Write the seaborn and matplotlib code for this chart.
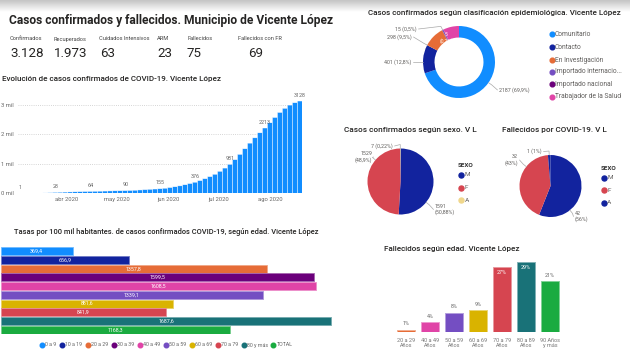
import numpy as np
import pandas as pd
import matplotlib
matplotlib.use("Agg")
import matplotlib.pyplot as plt
import matplotlib.dates as mdates
import matplotlib.colors as mcolors
from matplotlib.lines import Line2D
import seaborn as sns

# ---------------- data ----------------
kpi_labels = ["Confirmados", "Recuperados", "Cuidados Intensivos", "ARM", "Fallecidos", "Fallecidos con FR"]
kpi_values = ["3.128", "1.973", "63", "23", "75", "69"]

evo_start = "2020-03-04"
evo_step_days = 3
evo_values = [1, 2, 3, 5, 8, 12, 19, 28, 34, 40, 45, 50, 55, 60, 64, 68, 72, 76, 80, 84,
              87, 90, 96, 104, 113, 124, 135, 145, 155, 172, 195, 222, 252, 290, 330, 376,
              430, 495, 565, 645, 745, 855, 981, 1140, 1320, 1510, 1700, 1880, 2050, 2213,
              2390, 2570, 2740, 2880, 2990, 3070, 3128]
evo_label_every = 7
month_ticks = ["2020-04-01", "2020-05-01", "2020-06-01", "2020-07-01", "2020-08-01"]
month_labels = ["abr 2020", "may 2020", "jun 2020", "jul 2020", "ago 2020"]
evo_yticks = [0, 1000, 2000, 3000]

age_groups = ["0 a 9", "10 a 19", "20 a 29", "30 a 39", "40 a 49", "50 a 59",
              "60 a 69", "70 a 79", "80 y más", "TOTAL"]
age_rates = [369.4, 656.9, 1357.8, 1599.5, 1608.5, 1339.1, 881.6, 841.9, 1687.6, 1168.3]
age_colors = ["#118DFF", "#12239E", "#E66C37", "#6B007B", "#E044A7", "#744EC2",
              "#D9B300", "#D64550", "#197278", "#1AAB40"]

epi_cats = ["Comunitario", "Contacto", "En Investigación", "Importado internacional",
            "Importado nacional", "Trabajador de la Salud"]
epi_legend = ["Comunitario", "Contacto", "En Investigación", "Importado internacio...",
              "Importado nacional", "Trabajador de la Salud"]
epi_values = [2187, 401, 298, 15, 5, 222]
epi_colors = ["#118DFF", "#12239E", "#E66C37", "#744EC2", "#6B007B", "#E044A7"]

sex_cats = ["M", "F", "A"]
sex_cases = [1591, 1529, 7]
sex_case_colors = ["#12239E", "#D64550", "#F0D78C"]
sex_deaths = [42, 32, 1]
sex_death_colors = ["#12239E", "#D64550", "#12239E"]

death_age_groups = ["20 a 29\nAños", "40 a 49\nAños", "50 a 59\nAños", "60 a 69\nAños",
                    "70 a 79\nAños", "80 a 89\nAños", "90 Años\ny más"]
death_age_pct = [1, 4, 8, 9, 27, 29, 21]
death_age_colors = ["#E66C37", "#E044A7", "#744EC2", "#D9B300", "#D64550", "#197278", "#1AAB40"]

# ---------------- setup ----------------
W, H = 630, 356
sns.set_theme(style="white")
plt.rcParams["font.family"] = ["Roboto", "DejaVu Sans"]
TITLE_C = "#252423"
GREY = "#605E5C"

fig = plt.figure(figsize=(W / 100, H / 100), dpi=100)
fig.patch.set_facecolor("white")


def px_axes(x0, y0, x1, y1, **kw):
    return fig.add_axes([x0 / W, 1 - y1 / H, (x1 - x0) / W, (y1 - y0) / H], **kw)


def lighten(c, f=0.35):
    r, g, b = mcolors.to_rgb(c)
    return (r + (1 - r) * f, g + (1 - g) * f, b + (1 - b) * f)


ov = px_axes(0, 0, W, H, zorder=10)
ov.patch.set_alpha(0)
ov.axis("off")
grad = np.linspace(0, 1, 50).reshape(-1, 1)
cm = mcolors.LinearSegmentedColormap.from_list("g", ["#c4c4c4", "#ffffff"])
ov.imshow(grad, extent=(0, W, 12, 0), aspect="auto", cmap=cm, zorder=0)
ov.set_xlim(0, W)
ov.set_ylim(H, 0)


def T(x, y, s, size, ha="left", va="center", color=GREY, weight="normal", **kw):
    return ov.text(x, y, s, fontsize=size, ha=ha, va=va, color=color, weight=weight, **kw)


fit_list = []


def title(x, y, s, width, weight="medium", ha="left"):
    t = T(x, y, s, 7, ha=ha, color=TITLE_C, weight=weight)
    fit_list.append((t, width))
    return t


# ---------------- header ----------------
title(9, 20.5, "Casos confirmados y fallecidos. Municipio de Vicente López", 327, weight="bold")
kpi_lab_x = [10, 54, 99, 157, 188, 238]
kpi_val_x = [10, 54, 100, 157, 187, 248]
for lab, val, lx, vx in zip(kpi_labels, kpi_values, kpi_lab_x, kpi_val_x):
    T(lx, 39, lab, 4.1, color="#444444")
    T(vx, 53.5, val, 9.6, color="#252423")

# ---------------- evolution chart ----------------
title(2, 79, "Evolución de casos confirmados de COVID-19. Vicente López", 221)
evo_dates = pd.date_range(evo_start, periods=len(evo_values), freq=f"{evo_step_days}D")
evo_df = pd.DataFrame({"x": mdates.date2num(evo_dates), "casos": evo_values})
ax1 = px_axes(17.9, 95, 302.4, 193.3)
sns.barplot(data=evo_df, x="x", y="casos", native_scale=True, color="#118DFF",
            width=1, edgecolor="white", linewidth=0.3, errorbar=None, saturation=1, ax=ax1)
# make each column fill its whole time step (bars touching, thin white separators)
for p in ax1.patches:
    cx = p.get_x() + p.get_width() / 2
    p.set_width(evo_step_days)
    p.set_x(cx - evo_step_days / 2)
    p.set_snap(False)
half = evo_step_days / 2
ax1.set_xlim(evo_df["x"].iloc[0] - half, evo_df["x"].iloc[-1] + half)
ax1.set_ylim(0, 3332)
ax1.set_xticks(mdates.date2num(pd.to_datetime(month_ticks)))
ax1.set_xticklabels(month_labels)
ax1.set_yticks(evo_yticks)
ax1.set_yticklabels([f"{v // 1000} mil" for v in evo_yticks])
ax1.set_axisbelow(True)
ax1.yaxis.grid(True, linestyle=(0, (1, 1.6)), color="#c8c8c8", lw=0.6)
ax1.xaxis.grid(False)
ax1.tick_params(axis="both", length=0, labelsize=4.2, colors="#666666")
ax1.tick_params(axis="x", pad=3)
ax1.tick_params(axis="y", pad=3)
ax1.set_xlabel("")
ax1.set_ylabel("")
sns.despine(ax=ax1, left=True, bottom=True)
ax1.patch.set_alpha(0)
for i in range(0, len(evo_values), evo_label_every):
    ax1.annotate(str(evo_values[i]), (evo_df["x"].iloc[i], evo_values[i]), xytext=(0, 2.5),
                 textcoords="offset points", ha="center", va="bottom", fontsize=3.9, color="#666666")

# ---------------- rates by age ----------------
title(166.5, 231.5, "Tasas por 100 mil habitantes. de casos confirmados COVID-19, según edad. Vicente López",
      307, ha="center")
rate_df = pd.DataFrame({"grupo": age_groups, "tasa": age_rates})
ax2 = px_axes(0.5, 247, 344.5, 334)
sns.barplot(data=rate_df, y="grupo", x="tasa", hue="grupo", palette=dict(zip(age_groups, age_colors)),
            orient="h", width=0.93, saturation=1, legend=False, ax=ax2)
ax2.set_xlim(0, max(age_rates) * 344 / 331)
for p in ax2.patches:
    p.set_edgecolor(lighten(p.get_facecolor(), 0.4))
    p.set_linewidth(0.6)
for cont, v in zip(ax2.containers, age_rates):
    ax2.bar_label(cont, labels=[f"{v:.1f}".replace(".", ",")], label_type="center",
                  color="white", fontsize=3.8)
ax2.axis("off")
handles = [Line2D([], [], marker="o", ls="", color=c, markersize=3.3) for c in age_colors]
ov.legend(handles, age_groups, loc="center", bbox_to_anchor=(166 / W, 1 - 345 / H),
          bbox_transform=fig.transFigure, ncol=10, fontsize=3.8, frameon=False,
          handletextpad=0.05, columnspacing=0.6, borderpad=0, handlelength=1.0,
          labelcolor="#666666")


# ---------------- pies ----------------
def leader(wedge, cx, cy, r, tx, ty, text, ha, size=3.8):
    t1, t2 = wedge.theta1, wedge.theta2
    a = np.degrees(np.arctan2(cy - ty, tx - cx))
    a = t1 + (a - t1) % 360
    if a > t2:
        m = min(4, (t2 - t1) / 2)
        a = t1 + m if (360 - (a - t1)) < (a - t2) else t2 - m
    ar = np.radians(a)
    ex, ey = cx + r * np.cos(ar), cy - r * np.sin(ar)
    ox, oy = cx + (r + 4) * np.cos(ar), cy - (r + 4) * np.sin(ar)
    anc = tx + 1.5 if ha == "right" else tx - 1.5
    ov.plot([ex, ox, anc], [ey, oy, ty], color="#A8A8A8", lw=0.5)
    T(tx, ty, text, size, ha=ha, multialignment=ha, linespacing=1.15)


def pie(cx, cy, r, vals, cols, width=None):
    ax = px_axes(cx - r, cy - r, cx + r, cy + r)
    wp = dict(linewidth=0)
    if width:
        wp["width"] = width
    wedges, _ = ax.pie(vals, colors=cols, startangle=90, counterclock=False, radius=1, wedgeprops=wp)
    ax.set_xlim(-1, 1)
    ax.set_ylim(-1, 1)
    return wedges


# donut
title(368.5, 12.8, "Casos confirmados según clasificación epidemiológica. Vicente López", 255)
dcx, dcy, dr = 459, 62, 36
w = pie(dcx, dcy, dr, epi_values, epi_colors, width=0.32)
tot = sum(epi_values)


def pct1(v, t):
    return f"{100 * v / t:.1f}".replace(".", ",") + "%"


leader(w[0], dcx, dcy, dr, 499, 90, f"{epi_values[0]} ({pct1(epi_values[0], tot)})", "left")
leader(w[1], dcx, dcy, dr, 411, 62, f"{epi_values[1]} ({pct1(epi_values[1], tot)})", "right")
leader(w[2], dcx, dcy, dr, 412, 37, f"{epi_values[2]} ({pct1(epi_values[2], tot)})", "right")
leader(w[3], dcx, dcy, dr, 417, 29, f"{epi_values[3]} ({pct1(epi_values[3], tot)})", "right")
T(446, 38, f"{epi_values[4]}\n({pct1(epi_values[4], tot)})", 3.6, ha="center", color="white",
  multialignment="center", linespacing=1.1)
leg_y = [34.3, 47.3, 60, 71.7, 84.3, 96.7]
for lab, c, y in zip(epi_legend, epi_colors, leg_y):
    ov.plot([552], [y], marker="o", ms=3.4, color=c, ls="")
    T(555, y, lab, 4.8)


def pct_trim(v, t, dec):
    s = f"{100 * v / t:.{dec}f}"
    if "." in s:
        s = s.rstrip("0").rstrip(".")
    return s.replace(".", ",") + "%"


# sex pie
title(343.5, 130, "Casos confirmados según sexo. V L", 133)
scx, scy, sr = 400.5, 181.5, 33
ws = pie(scx, scy, sr, sex_cases, sex_case_colors)
st = sum(sex_cases)
leader(ws[2], scx, scy, sr, 393, 146, f"{sex_cases[2]} ({pct_trim(sex_cases[2], st, 2)})", "right")
leader(ws[1], scx, scy, sr, 372, 157, f"{sex_cases[1]}\n({pct_trim(sex_cases[1], st, 2)})", "right")
leader(ws[0], scx, scy, sr, 435, 209.5, f"{sex_cases[0]}\n({pct_trim(sex_cases[0], st, 2)})", "left")
T(458, 165.5, "SEXO", 4.6, color="#333333", weight="bold")
for lab, c, y in zip(sex_cats, sex_case_colors, [175, 187.5, 200]):
    ov.plot([461], [y], marker="o", ms=3.6, color=c, ls="")
    T(464.5, y, lab, 4.6)

# deaths pie
title(502, 130, "Fallecidos por COVID-19. V L", 105)
fcx, fcy, fr = 550.5, 186, 31
wf = pie(fcx, fcy, fr, sex_deaths, sex_death_colors)
ft = sum(sex_deaths)
leader(wf[2], fcx, fcy, fr, 542, 151.5, f"{sex_deaths[2]} ({pct_trim(sex_deaths[2], ft, 0)})", "right")
leader(wf[1], fcx, fcy, fr, 518, 160, f"{sex_deaths[1]}\n({pct_trim(sex_deaths[1], ft, 0)})", "right")
leader(wf[0], fcx, fcy, fr, 575, 216.5, f"{sex_deaths[0]}\n({pct_trim(sex_deaths[0], ft, 0)})", "left")
T(600.5, 168, "SEXO", 4.6, color="#333333", weight="bold")
for lab, c, y in zip(sex_cats, sex_death_colors, [177.5, 190, 202.5]):
    ov.plot([603.5], [y], marker="o", ms=3.6, color=c, ls="")
    T(607, y, lab, 4.6)

# ---------------- deaths by age ----------------
title(383.5, 249, "Fallecidos según edad. Vicente López", 137)
dage_df = pd.DataFrame({"edad": death_age_groups, "pct": death_age_pct})
ax3 = px_axes(394, 255, 562, 332)
sns.barplot(data=dage_df, x="edad", y="pct", hue="edad", palette=dict(zip(death_age_groups, death_age_colors)),
            width=0.79, saturation=1, legend=False, ax=ax3)
ax3.set_ylim(0, 77 / 2.41)
for p in ax3.patches:
    p.set_edgecolor(lighten(p.get_facecolor(), 0.45))
    p.set_linewidth(0.7)
mx = max(death_age_pct)
for cont, v in zip(ax3.containers, death_age_pct):
    inside = v > 0.85 * mx
    ax3.bar_label(cont, labels=[f"{v}%"], label_type="edge", padding=-6 if inside else 2.5,
                  color="white" if inside else "#666666", fontsize=3.9)
ax3.set_xlabel("")
ax3.set_ylabel("")
ax3.set_yticks([])
ax3.tick_params(axis="x", length=0, labelsize=4.0, colors="#777777", pad=4)
for lab in ax3.get_xticklabels():
    lab.set_linespacing(1.1)
sns.despine(ax=ax3, left=True, bottom=True)
ax3.patch.set_alpha(0)

# ---------------- fit titles to reference widths ----------------
renderer = fig.canvas.get_renderer()
for t, width in fit_list:
    bb = t.get_window_extent(renderer)
    t.set_fontsize(t.get_fontsize() * width / bb.width)

fig.savefig("out.png", dpi=100, facecolor="white")
